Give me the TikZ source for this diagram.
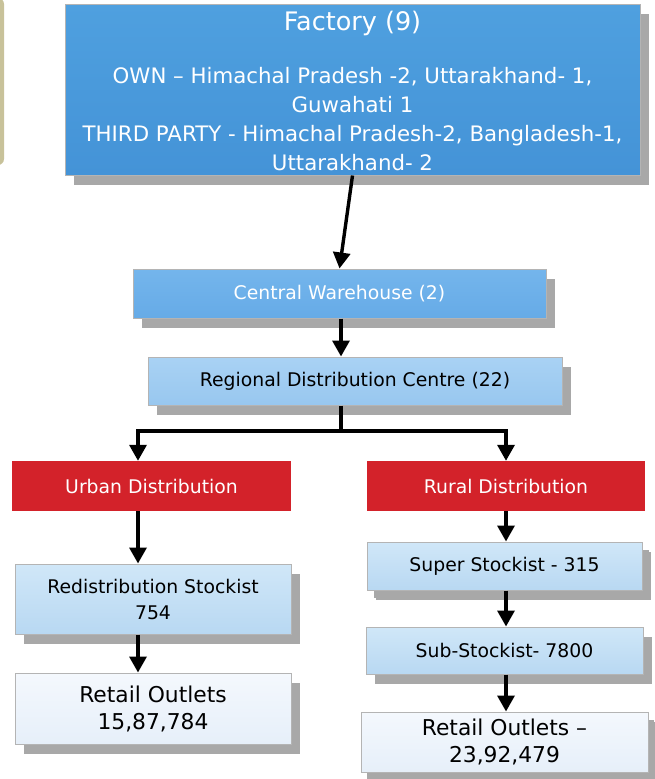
\documentclass[tikz,border=0pt]{standalone}
\usepackage{fontspec}
\setmainfont{DejaVu Sans}
\usetikzlibrary{arrows.meta,shadows}
\definecolor{factop}{HTML}{4FA0DF}
\definecolor{facbot}{HTML}{4493D7}
\definecolor{cwtop}{HTML}{74B5EC}
\definecolor{cwbot}{HTML}{66ABE7}
\definecolor{rdctop}{HTML}{A9D2F4}
\definecolor{rdcbot}{HTML}{98C7EF}
\definecolor{lttop}{HTML}{D0E7F8}
\definecolor{ltbot}{HTML}{B8D8F2}
\definecolor{paletop}{HTML}{F4F8FD}
\definecolor{palebot}{HTML}{E6EFF9}
\definecolor{distred}{HTML}{D3222A}
\definecolor{shadowgray}{HTML}{A8A8A8}
\definecolor{bordergray}{HTML}{B4B4B4}
\definecolor{khaki}{HTML}{C8C29A}
\begin{document}
\begin{tikzpicture}[x=1pt,y=-1pt,
  bx/.style={rectangle,draw=bordergray,line width=1pt,inner sep=0pt,align=center,
    general shadow={fill=shadowgray,shadow xshift=9pt,shadow yshift=-10pt}},
  facfill/.style={top color=factop,bottom color=facbot},
  cwfill/.style={top color=cwtop,bottom color=cwbot},
  rdcfill/.style={top color=rdctop,bottom color=rdcbot},
  ltfill/.style={top color=lttop,bottom color=ltbot},
  palefill/.style={top color=paletop,bottom color=palebot},
  redbx/.style={rectangle,fill=distred,draw=none,inner sep=0pt,align=center,text=white,
    font=\fontsize{18.8}{20}\selectfont},
  txt/.style={inner sep=0pt,align=center},
  ln/.style={line width=3.4pt,black},
  arr/.style={ln,-{Triangle[width=17pt,length=16pt]}}]
\useasboundingbox (0,0) rectangle (654,779);
\fill[white] (0,0) rectangle (654,779);
\fill[khaki,rounded corners=6pt] (-30,-2) rectangle (4,165);
% boxes
\node[bx,facfill,minimum width=575pt,minimum height=171pt] (factory) at (352.5,89.5) {};
\node[txt,text=white,font=\fontsize{25.5}{28}\selectfont] (factitle) at (352.5,23) {Factory (9)};
\node[txt,text=white,font=\fontsize{21.3}{29}\selectfont] (facbody) at (352.5,119)
  {OWN – Himachal Pradesh -2, Uttarakhand- 1,\\Guwahati 1\\THIRD PARTY - Himachal Pradesh-2, Bangladesh-1,\\Uttarakhand- 2};
\node[bx,cwfill,text=white,minimum width=413pt,minimum height=49pt,font=\fontsize{18.8}{20}\selectfont] (cw) at (339.5,293.5) {Central Warehouse (2)};
\node[bx,rdcfill,minimum width=414pt,minimum height=48pt,font=\fontsize{18.8}{20}\selectfont] (rdc) at (355,381) {Regional Distribution Centre (22)};
\node[redbx,minimum width=279pt,minimum height=50pt] (urban) at (151.5,486) {Urban Distribution};
\node[redbx,minimum width=278pt,minimum height=50pt] (rural) at (506,486) {Rural Distribution};
\node[bx,ltfill,minimum width=276pt,minimum height=70pt,font=\fontsize{18.8}{26}\selectfont] (redis) at (153,599) {Redistribution Stockist\\754};
\node[bx,palefill,minimum width=276pt,minimum height=71pt,font=\fontsize{21.8}{27}\selectfont] (retl) at (153,708.5) {Retail Outlets\\15,87,784};
\node[bx,ltfill,minimum width=275pt,minimum height=48pt,font=\fontsize{18.8}{20}\selectfont,general shadow={fill=shadowgray,shadow xshift=7pt,shadow yshift=-8pt}] (super) at (504.5,566) {Super Stockist - 315};
\node[bx,ltfill,minimum width=277pt,minimum height=47pt,font=\fontsize{18.8}{20}\selectfont] (sub) at (504.5,650.5) {Sub-Stockist- 7800};
\node[bx,palefill,minimum width=287pt,minimum height=60pt,font=\fontsize{21.8}{27}\selectfont,general shadow={fill=shadowgray,shadow xshift=6pt,shadow yshift=-8pt}] (retr) at (504.5,742) {Retail Outlets –\\23,92,479};
% connectors
\coordinate (split) at (341,431);
\coordinate (ucol) at (138,0);
\coordinate (rcol) at (506,0);
\draw[arr] (factory.south) -- (cw.north);
\draw[arr] (cw.south -| split) -- (rdc.north -| split);
\draw[ln] (rdc.south -| split) -- (split);
\draw[arr] (split) -| (urban.north -| ucol);
\draw[arr] (split) -| (rural.north -| rcol);
\draw[arr] (urban.south -| ucol) -- (redis.north -| ucol);
\draw[arr] (redis.south -| ucol) -- (retl.north -| ucol);
\draw[arr] (rural.south -| rcol) -- (super.north -| rcol);
\draw[arr] (super.south -| rcol) -- (sub.north -| rcol);
\draw[arr] (sub.south -| rcol) -- (retr.north -| rcol);
\end{tikzpicture}
\end{document}
